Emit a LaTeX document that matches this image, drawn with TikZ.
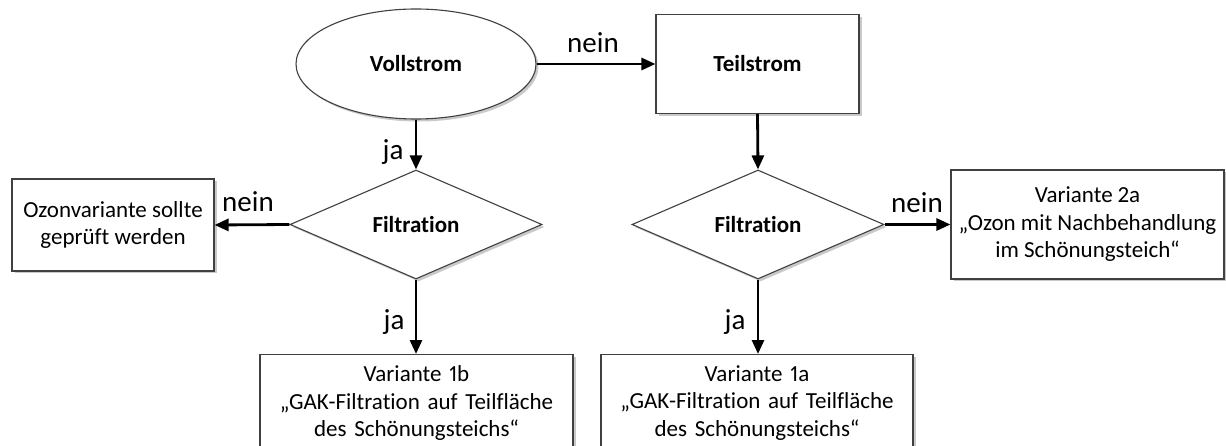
\documentclass[tikz,border=0pt]{standalone}
\usepackage{fontspec}
\setmainfont{Carlito}[Ligatures=NoCommon, Numbers=Proportional]
\usetikzlibrary{shapes.geometric,shadows,arrows.meta}
\begin{document}
\begin{tikzpicture}[x=1pt,y=-1pt,
  txt/.style={font=\fontsize{23}{27.5}\selectfont},
  bld/.style={font=\fontsize{23}{27.5}\selectfont\bfseries},
  frame/.style={draw=black!75, line width=1.1pt, fill=white,
    drop shadow={shadow xshift=2.5pt, shadow yshift=-2.5pt, opacity=0.35, fill=black!60}},
  box/.style={frame, rectangle, align=center, inner sep=0pt, txt},
  cond/.style={frame, diamond, minimum width=252pt, minimum height=109pt, inner sep=0pt, bld},
  conn/.style={line width=2.8pt, -{Triangle[length=14pt,width=12pt]}},
  lbl/.style={font=\fontsize{29}{33}\selectfont, inner sep=0pt}
]
\clip (0,0) rectangle (1226,446);
\fill[white] (0,0) rectangle (1226,446);

\node[frame, ellipse, minimum width=240pt, minimum height=110pt, inner sep=0pt, bld] (voll) at (416,64) {Vollstrom};
\node[box, bld, minimum width=203pt, minimum height=99pt] (teil) at (757.5,64) {Teilstrom};

\node[cond] (d1) at (416,224.5) {Filtration};
\node[cond] (d2) at (758,224.5) {Filtration};

\node[box, minimum width=202pt, minimum height=92pt] (ozon) at (113,225) {Ozonvariante sollte\\geprüft werden};
\node[box, minimum width=273pt, minimum height=109pt] (v2a) at (1087.5,224.5) {Variante 2a\\„Ozon mit Nachbehandlung\\im Schönungsteich“};

\node[box, anchor=north, text width=313pt, inner ysep=11pt] (v1b) at (416.5,354) {Variante 1b\\„GAK-Filtration auf Teilfläche\\des Schönungsteichs“\\[20pt]\mbox{}};
\node[box, anchor=north, text width=312pt, inner ysep=11pt] (v1a) at (757,354) {Variante 1a\\„GAK-Filtration auf Teilfläche\\des Schönungsteichs“\\[20pt]\mbox{}};

\draw[conn] (voll) -- (teil);
\draw[conn] (voll.south) -- (d1.north);
\draw[conn] (teil.south) -- (d2.north);
\draw[conn] (d1.west) -- (ozon.east);
\draw[conn] (d2.east) -- (v2a.west);
\draw[conn] (d1.south) -- (v1b.north -| d1.south);
\draw[conn] (d2.south) -- (v1a.north -| d2.south);

\node[lbl] (l1) at (593,43) {nein};
\node[lbl] (l2) at (393,152) {ja};
\node[lbl] (l3) at (248,202) {nein};
\node[lbl] (l4) at (917,203) {nein};
\node[lbl] (l5) at (394,322) {ja};
\node[lbl] (l6) at (735,322) {ja};
\end{tikzpicture}
\end{document}
